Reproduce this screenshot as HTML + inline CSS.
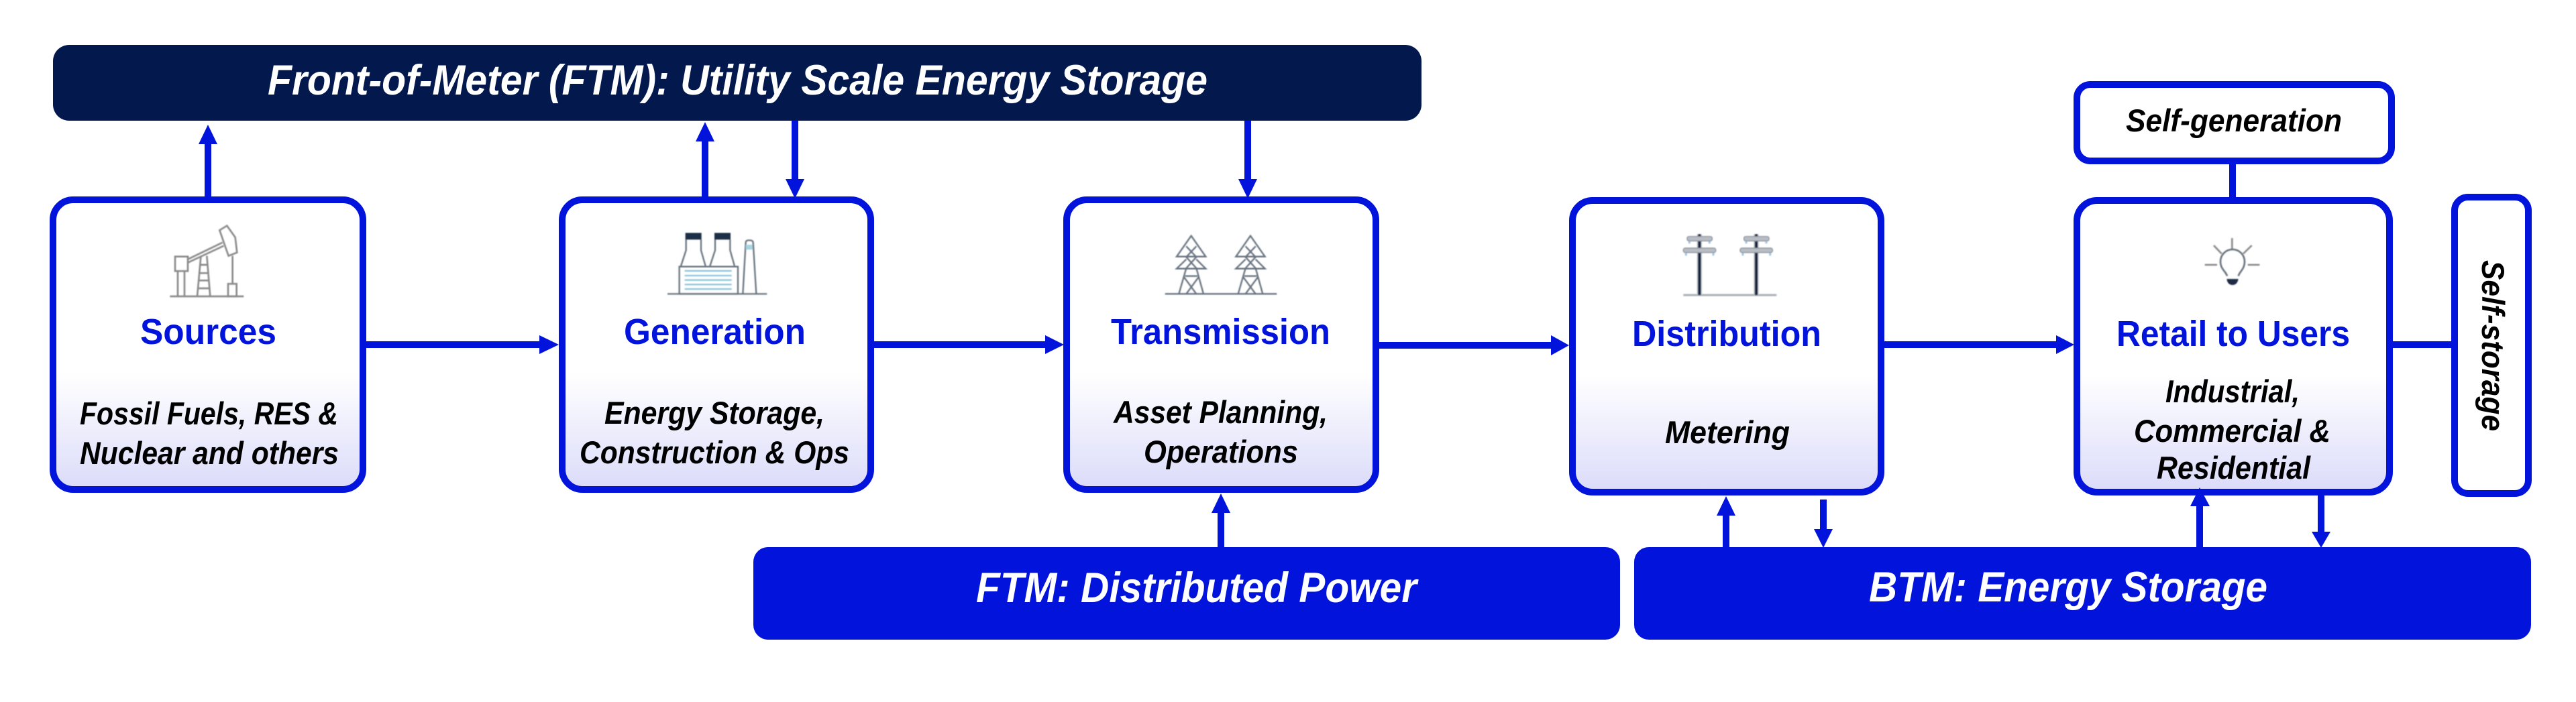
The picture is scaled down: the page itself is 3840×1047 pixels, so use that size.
<!DOCTYPE html>
<html lang="en"><head><meta charset="utf-8"><title>Energy value chain</title>
<style>
html,body{margin:0;padding:0;background:#fff;width:3840px;height:1047px;overflow:hidden}
svg{display:block}
text{font-family:"Liberation Sans",sans-serif;font-weight:700}
.h{fill:#0214DC;font-size:54px}
.s{fill:#000;font-size:47px;font-style:italic}
.w{fill:#fff;font-size:63px;font-style:italic}
.i{fill:none;stroke:#8a8a8a;stroke-width:8}
.t{fill:none;stroke:#67727e;stroke-width:7}
</style></head><body>
<svg width="3840" height="1047" viewBox="0 0 3840 1047" xmlns="http://www.w3.org/2000/svg">
<defs>
<linearGradient id="g" x1="0" y1="0" x2="0" y2="1"><stop offset="0" stop-color="#fff"/><stop offset=".6" stop-color="#fff"/><stop offset="1" stop-color="#DBDBFA"/></linearGradient>
<filter id="b" x="-10%" y="-10%" width="120%" height="120%"><feGaussianBlur stdDeviation="0.8"/></filter>
<g id="tower"><path d="M167 65L102 158H232ZM145 170L102 212H232L190 170M145 112L190 160L145 210M190 112L145 160L190 210M145 210L112 325M190 210L222 325M140 245H195M135 250L190 325M200 250L145 325"/></g>
<g id="pole"><path d="M160 58V330" stroke="#c3c7cc" stroke-width="22" fill="none"/><path d="M160 58V330" stroke="#14223c" stroke-width="13" fill="none"/><rect x="105" y="68" width="112" height="20" rx="8" fill="#b8bcc4" stroke="#8d9299" stroke-width="4"/><rect x="88" y="120" width="145" height="20" rx="8" fill="#b8bcc4" stroke="#8d9299" stroke-width="4"/><path d="M115 90v10M205 90v10M100 142v12M222 142v12" stroke="#9cc4e6" stroke-width="9" fill="none"/></g>
</defs>

<!-- Bars -->
<rect x="79" y="67" width="2040" height="113" rx="24" fill="#03194E"/>
<rect x="1123" y="816" width="1292" height="138" rx="22" fill="#0214DC"/>
<rect x="2436" y="816" width="1337" height="138" rx="22" fill="#0214DC"/>

<!-- Boxes -->
<g stroke="#0214DC" stroke-width="10" fill="url(#g)">
<rect x="79" y="298" width="462" height="432" rx="30"/>
<rect x="838" y="298" width="460" height="432" rx="30"/>
<rect x="1590" y="298" width="461" height="432" rx="30"/>
<rect x="2344" y="299" width="460" height="435" rx="30"/>
<rect x="3096" y="299" width="466" height="435" rx="30"/>
</g>
<g stroke="#0214DC" stroke-width="10" fill="#fff">
<rect x="3096" y="126" width="469" height="114" rx="20"/>
<rect x="3659" y="294" width="110" height="442" rx="20"/>
</g>

<!-- Connectors -->
<g stroke="#0214DC" stroke-width="10" fill="none">
<path d="M310 295V205M1051 295V205M1185 180V270M1860 180V270M1820 816V760M2573 816V765M2718 745V795M3279 816V750M3460 739V795"/>
<path d="M546 514H808M1303 514H1560M2056 515H2315M2809 514H3066M3567 514H3657M3328 245V294"/>
</g>
<g fill="#0214DC">
<path d="M310 186L296 215H324Z"/>
<path d="M1051 182L1037 211H1065Z"/>
<path d="M1185 296L1171 267H1199Z"/>
<path d="M1860 296L1846 267H1874Z"/>
<path d="M1820 736L1806 765H1834Z"/>
<path d="M2573 740L2559 769H2587Z"/>
<path d="M2718 817L2704 789H2732Z"/>
<path d="M3279 727L3265 755H3294Z"/>
<path d="M3460 817L3446 793H3474Z"/>
<path d="M833 514L804 500V528Z"/>
<path d="M1586 514L1558 500V528Z"/>
<path d="M2339 515L2312 500V530Z"/>
<path d="M3092 514L3065 500V528Z"/>
</g>

<!-- Icons -->
<g filter="url(#b)">
<g transform="translate(220 330) scale(.3333)" class="i">
<path d="M100 336H430M135 223V336M165 223V336M180 170L335 95M180 185L340 110M322 40L355 20L392 72L400 140L362 155ZM380 155V280M238 160L222 336M265 155L280 336M235 195H268M230 232H272M228 265H275M224 300H278"/>
<rect x="123" y="158" width="57" height="65"/><rect x="360" y="280" width="38" height="56"/>
</g>
<g transform="translate(980 330) scale(.3333)">
<g class="t">
<path d="M45 325H490M128 82V130L105 200M195 82V130L215 200M258 82V130L235 200M325 82V130L345 200M382 325L395 95Q395 85 410 85Q428 85 428 95L442 325"/>
<rect x="98" y="203" width="262" height="122"/>
</g>
<rect x="125" y="52" width="72" height="30" fill="#1a2e44"/><rect x="255" y="52" width="72" height="30" fill="#1a2e44"/>
<rect x="395" y="105" width="30" height="22" fill="#a5d5e0"/>
<path d="M122 222H332M122 243H332M122 263H332M122 283H332M122 303H332" stroke="#8cc4da" stroke-width="7" fill="none"/>
</g>
<g transform="translate(1720 330) scale(.3333)" class="t">
<path d="M50 325H550"/>
<use href="#tower"/><use href="#tower" x="265"/>
</g>
<g transform="translate(2480 330) scale(.3333)">
<path d="M88 330H505" stroke="#a8aeb4" stroke-width="9" fill="none"/>
<use href="#pole"/><use href="#pole" x="254"/>
</g>
<g transform="translate(3240 330) scale(.3333)">
<path d="M262 75V125M180 108L215 145M350 108L312 145M140 195H195M332 195H385" stroke="#8a8a8a" stroke-width="8" fill="none"/>
<path d="M240 245C235 225 210 215 210 180A54 54 0 0 1 318 180C318 215 295 225 290 245" stroke="#67727e" stroke-width="8" fill="none"/>
<path d="M238 258H290Q285 285 264 285Q242 285 238 258Z" fill="#1a2a44"/>
</g>
</g>

<!-- Bar labels -->
<text class="w" x="399" y="141" textLength="1401" lengthAdjust="spacingAndGlyphs">Front-of-Meter (FTM): Utility Scale Energy Storage</text>
<text class="w" x="1455" y="898" textLength="657" lengthAdjust="spacingAndGlyphs">FTM: Distributed Power</text>
<text class="w" x="2786" y="897" textLength="594" lengthAdjust="spacingAndGlyphs">BTM: Energy Storage</text>

<!-- Headings -->
<text class="h" x="209" y="513" textLength="203" lengthAdjust="spacingAndGlyphs">Sources</text>
<text class="h" x="930" y="513" textLength="271" lengthAdjust="spacingAndGlyphs">Generation</text>
<text class="h" x="1656" y="513" textLength="327" lengthAdjust="spacingAndGlyphs">Transmission</text>
<text class="h" x="2433" y="516" textLength="282" lengthAdjust="spacingAndGlyphs">Distribution</text>
<text class="h" x="3155" y="516" textLength="348" lengthAdjust="spacingAndGlyphs">Retail to Users</text>

<!-- Sub labels -->
<text class="s" x="119" y="633" textLength="385" lengthAdjust="spacingAndGlyphs">Fossil Fuels, RES &amp;</text>
<text class="s" x="119" y="692" textLength="386" lengthAdjust="spacingAndGlyphs">Nuclear and others</text>
<text class="s" x="901" y="632" textLength="328" lengthAdjust="spacingAndGlyphs">Energy Storage,</text>
<text class="s" x="864" y="691" textLength="402" lengthAdjust="spacingAndGlyphs">Construction &amp; Ops</text>
<text class="s" x="1660" y="631" textLength="319" lengthAdjust="spacingAndGlyphs">Asset Planning,</text>
<text class="s" x="1705" y="690" textLength="230" lengthAdjust="spacingAndGlyphs">Operations</text>
<text class="s" x="2482" y="661" textLength="186" lengthAdjust="spacingAndGlyphs">Metering</text>
<text class="s" x="3228" y="600" textLength="200" lengthAdjust="spacingAndGlyphs">Industrial,</text>
<text class="s" x="3181" y="659" textLength="293" lengthAdjust="spacingAndGlyphs">Commercial &amp;</text>
<text class="s" x="3215" y="714" textLength="229" lengthAdjust="spacingAndGlyphs">Residential</text>
<text class="s" x="3169" y="196" textLength="322" lengthAdjust="spacingAndGlyphs">Self-generation</text>
<text class="s" transform="translate(3700 388) rotate(90)" x="0" y="0" textLength="255" lengthAdjust="spacingAndGlyphs">Self-storage</text>
</svg>
</body></html>
